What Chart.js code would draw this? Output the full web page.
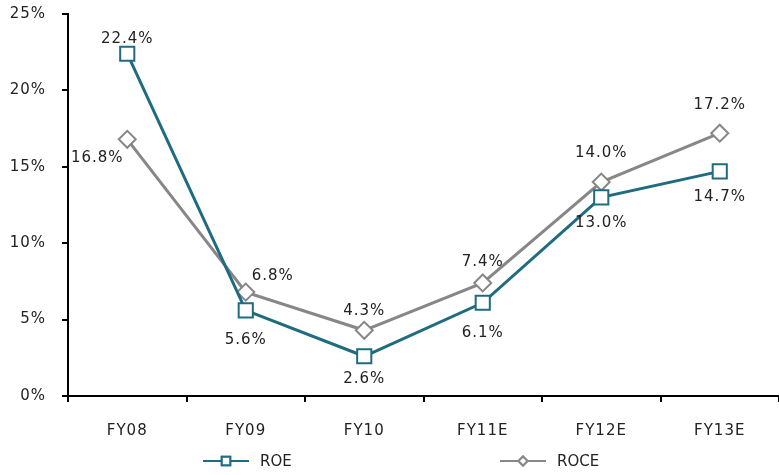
<!DOCTYPE html>
<html>
<head>
<meta charset="utf-8">
<script src="https://cdn.jsdelivr.net/npm/chart.js@4/dist/chart.umd.min.js"></script>
<style>
  html, body { margin: 0; padding: 0; background: #fff; }
  #wrap { width: 779px; height: 475px; position: relative; }
</style>
</head>
<body>
<div id="wrap"><canvas id="chart" width="779" height="475"></canvas></div>
<script>
// Data
const years = ['FY08', 'FY09', 'FY10', 'FY11E', 'FY12E', 'FY13E'];
const roe = [22.4, 5.6, 2.6, 6.1, 13.0, 14.7];
const roce = [16.8, 6.8, 4.3, 7.4, 14.0, 17.2];
const yTicks = [0, 5, 10, 15, 20, 25];

const TEAL = '#1f6b80';
const GREY = '#878787';
const FONT = 'DejaVu Sans, Verdana, sans-serif';
const FSIZE = 15;

// where each value label sits relative to its point
const labelOffsets = [
    [[0, -15], [0, 30], [0, 23], [0, 30], [0, 26], [0, 26]],
    [[-30, 19], [27, -16], [0, -19], [0, -21], [0, -29], [0, -28]]
];

// the original text is a bit wider than DejaVu, so spread it slightly
const spacing = {
    id: 'spacing',
    beforeDraw(chart) { chart.ctx.letterSpacing = '1px'; },
    afterDraw(chart) { chart.ctx.letterSpacing = '0px'; }
};

const valueLabels = {
    id: 'valueLabels',
    afterDatasetsDraw(chart) {
        const ctx = chart.ctx;
        ctx.save();
        ctx.font = FSIZE + 'px ' + FONT;
        ctx.fillStyle = '#222';
        ctx.textAlign = 'center';
        ctx.textBaseline = 'middle';
        chart.data.datasets.forEach((ds, i) => {
            chart.getDatasetMeta(i).data.forEach((pt, j) => {
                const off = labelOffsets[i][j];
                ctx.fillText(ds.data[j].toFixed(1) + '%', pt.x + off[0], pt.y + off[1]);
            });
        });
        ctx.restore();
    }
};

// legend spread apart under the plot, like the original
const spreadLegend = {
    id: 'spreadLegend',
    afterDraw(chart) {
        const ctx = chart.ctx;
        const y = 461;
        const items = [
            { x: 203, color: TEAL, style: 'rect', text: 'ROE' },
            { x: 500, color: GREY, style: 'rectRot', text: 'ROCE' }
        ];
        ctx.save();
        items.forEach(it => {
            ctx.strokeStyle = it.color;
            ctx.lineWidth = 2;
            ctx.beginPath();
            ctx.moveTo(it.x, y);
            ctx.lineTo(it.x + 46, y);
            ctx.stroke();
            Chart.helpers.drawPoint(ctx, {
                pointStyle: it.style,
                radius: it.style === 'rect' ? 6 : 4.5,
                borderWidth: 1.5
            }, it.x + 23, y);
            ctx.fillStyle = '#fff';
            ctx.fill();
            ctx.stroke();
            ctx.fillStyle = '#222';
            ctx.font = FSIZE + 'px ' + FONT;
            ctx.textAlign = 'left';
            ctx.textBaseline = 'middle';
            ctx.fillText(it.text, it.x + 57, y + 1);
        });
        ctx.restore();
    }
};

new Chart(document.getElementById('chart').getContext('2d'), {
    type: 'line',
    data: {
        labels: years,
        datasets: [{
            label: 'ROE',
            data: roe,
            borderColor: TEAL,
            borderWidth: 3,
            pointStyle: 'rect',
            pointRadius: 10,
            pointBorderWidth: 2,
            pointBackgroundColor: '#fff',
            pointBorderColor: TEAL,
            tension: 0
        }, {
            label: 'ROCE',
            data: roce,
            borderColor: GREY,
            borderWidth: 3,
            pointStyle: 'rectRot',
            pointRadius: 8.5,
            pointBorderWidth: 2,
            pointBackgroundColor: '#fff',
            pointBorderColor: GREY,
            tension: 0
        }]
    },
    options: {
        responsive: false,
        animation: false,
        layout: {
            autoPadding: false,
            padding: { top: 14, right: 0, bottom: 40, left: 0 }
        },
        plugins: {
            legend: { display: false },
            tooltip: { enabled: false }
        },
        scales: {
            x: {
                offset: true,
                grid: {
                    offset: true,
                    drawOnChartArea: false,
                    drawTicks: true,
                    tickLength: 6,
                    color: '#000',
                    lineWidth: 2
                },
                border: { color: '#000', width: 2 },
                ticks: {
                    color: '#222',
                    font: { family: FONT, size: FSIZE },
                    padding: 20,
                    maxRotation: 0
                },
                afterFit(scale) {
                    scale.height = 39;
                    scale.paddingLeft = 0;
                    scale.paddingRight = 0;
                }
            },
            y: {
                min: 0,
                max: 25,
                afterBuildTicks(scale) {
                    scale.ticks = yTicks.map(v => ({ value: v }));
                },
                grid: {
                    drawOnChartArea: false,
                    drawTicks: true,
                    tickLength: 6,
                    color: '#000',
                    lineWidth: 2
                },
                border: { color: '#000', width: 2 },
                ticks: {
                    color: '#222',
                    font: { family: FONT, size: FSIZE },
                    padding: 16,
                    callback: v => v + '%'
                },
                afterFit(scale) {
                    scale.width = 68;
                    scale.paddingTop = 0;
                    scale.paddingBottom = 0;
                }
            }
        }
    },
    plugins: [spacing, valueLabels, spreadLegend]
});
</script>
</body>
</html>
